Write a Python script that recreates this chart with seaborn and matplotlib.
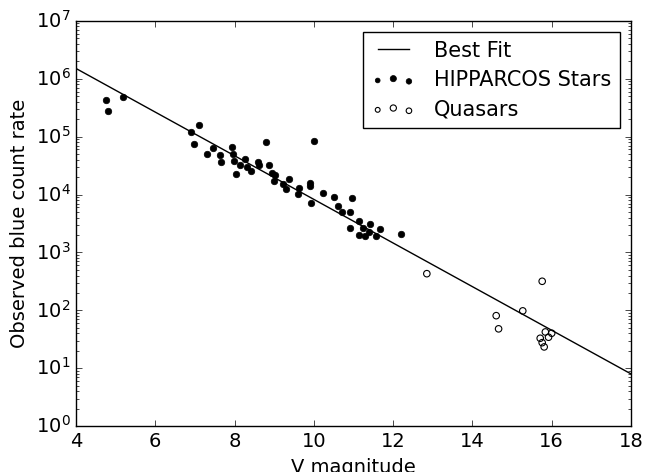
import matplotlib
matplotlib.use("Agg")
import matplotlib.pyplot as plt
from matplotlib.collections import PathCollection
from matplotlib.legend_handler import HandlerPathCollection
import seaborn as sns

# HIPPARCOS stars: V magnitude and observed blue count rate
star_v = [4.76, 4.81, 5.19, 6.90, 6.98, 7.11, 7.31, 7.46, 7.63, 7.65,
          7.94, 7.97, 7.99, 8.03, 8.14, 8.26, 8.31, 8.41, 8.58, 8.61,
          8.79, 8.86, 8.95, 9.02, 9.00, 9.23, 9.30, 9.37, 9.63, 9.59,
          9.90, 9.90, 9.93, 10.01, 10.24, 10.51, 10.62, 10.71, 10.90, 10.96,
          10.90, 11.13, 11.25, 11.14, 11.30, 11.38, 11.42, 11.57, 11.67, 12.21]
star_rate = [4.28e5, 2.77e5, 4.88e5, 1.19e5, 7.45e4, 1.58e5, 5.1e4, 6.3e4, 4.9e4, 3.68e4,
             6.5e4, 5.1e4, 3.84e4, 2.22e4, 3.19e4, 4.05e4, 2.96e4, 2.55e4, 3.67e4, 3.26e4,
             8.1e4, 3.27e4, 2.40e4, 2.19e4, 1.68e4, 1.50e4, 1.24e4, 1.83e4, 1.30e4, 1.03e4,
             1.56e4, 1.39e4, 7.05e3, 8.3e4, 1.07e4, 9.2e3, 6.4e3, 4.9e3, 4.99e3, 8.7e3,
             2.67e3, 3.49e3, 2.62e3, 1.98e3, 1.96e3, 2.25e3, 3.06e3, 1.92e3, 2.59e3, 2.11e3]

# quasars
qso_v = [12.85, 14.60, 14.66, 15.27, 15.76, 15.71, 15.76, 15.81, 15.84, 15.92, 16.00]
qso_rate = [430, 81, 48, 98, 318, 33, 27.7, 23.4, 42.4, 34.4, 40.3]

# best-fit line end points
fit_v = [4.0, 18.0]
fit_rate = [1.5e6, 8.0]

plt.style.use("classic")
plt.rcParams["font.family"] = ["DejaVu Sans"]
plt.rcParams["font.size"] = 14

fig, ax = plt.subplots(figsize=(6.57, 4.72), dpi=100, facecolor="white")
fig.subplots_adjust(left=0.1157, right=0.9604, top=0.956, bottom=0.097)

sns.lineplot(x=fit_v, y=fit_rate, ax=ax, color="k", linewidth=1, label="Best Fit")
sns.scatterplot(x=star_v, y=star_rate, ax=ax, s=22, color="k", edgecolor="k",
                linewidth=0.5, label="HIPPARCOS Stars")
sns.scatterplot(x=qso_v, y=qso_rate, ax=ax, s=22, facecolor="none", edgecolor="k",
                linewidth=0.8, label="Quasars")

ax.set_yscale("log")
ax.set_xlim(4, 18)
ax.set_ylim(1, 1e7)
ax.set_xlabel("V magnitude", fontsize=14)
ax.set_ylabel("Observed blue count rate", fontsize=14)
ax.tick_params(labelsize=14)

ax.legend(loc="upper right", fontsize=15, scatterpoints=3,
          scatteryoffsets=[0.375, 0.5, 0.3125], fancybox=False,
          borderaxespad=0.55, borderpad=0.4, handlelength=2.1,
          handletextpad=0.9, labelspacing=0.45,
          handler_map={PathCollection: HandlerPathCollection(sizes=[12, 20, 16])})

fig.savefig("out.png", dpi=100, facecolor="white")
